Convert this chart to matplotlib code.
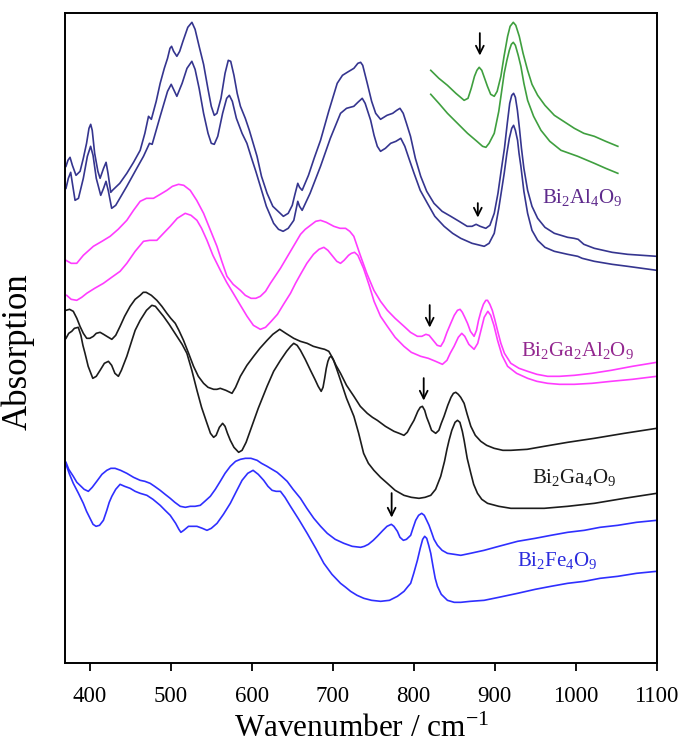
import matplotlib
matplotlib.use('Agg')
import matplotlib.pyplot as plt

plt.rcParams['font.family'] = 'Liberation Serif'
plt.rcParams['mathtext.fontset'] = 'custom'
plt.rcParams['mathtext.rm'] = 'Liberation Serif'
plt.rcParams['mathtext.it'] = 'Liberation Serif:italic'
plt.rcParams['mathtext.default'] = 'regular'

# ---- data (wavenumber / cm-1, offset absorption) ----
al_top_x = [370.6, 373, 375.6, 378.5, 383.0, 388, 392, 396, 399, 401.1, 403, 406, 410, 412.7, 417,
            420.1, 422.5, 425.9, 428, 437, 445.7, 454, 462.2, 468, 472.5, 476, 482, 486.9, 492,
            496, 499, 501, 503.5, 507.5, 511, 515, 521, 526.1, 530, 535, 540.5, 546, 550, 553.7,
            557, 562, 567, 571, 574, 578, 582, 586, 592, 597, 601, 606.5, 612, 618.9, 626, 635,
            639, 645, 650, 653, 656.8, 659, 662.2, 670, 677, 684.9, 695, 705.5, 712, 717.9, 726.1,
            731, 734.4, 737, 742.6, 748, 753, 759, 767, 774, 779, 783, 787, 791, 796, 802, 808.6,
            816, 825, 835, 845.7, 856, 866, 872, 877, 882, 889, 894, 899.4, 904, 908, 912, 915.5,
            918.5, 921, 923.3, 925.5, 928, 930.5, 933, 936, 940.6, 946, 953, 962, 973.6, 990, 998,
            1003, 1010, 1023, 1045, 1064, 1100]
al_top_y = [4.97, 5.03, 5.06, 4.98, 4.88, 4.92, 5.05, 5.20, 5.35, 5.39, 5.33, 5.10, 4.92, 4.85, 4.95,
            5.01, 4.90, 4.71, 4.73, 4.80, 4.90, 5.01, 5.13, 5.30, 5.47, 5.44, 5.62, 5.80, 5.95,
            6.05, 6.15, 6.17, 6.12, 6.07, 6.12, 6.22, 6.36, 6.41, 6.34, 6.17, 5.99, 5.74, 5.57, 5.48,
            5.50, 5.65, 5.90, 6.03, 6.02, 5.88, 5.70, 5.57, 5.45, 5.33, 5.22, 5.07, 4.87, 4.70, 4.57, 4.50,
            4.47, 4.50, 4.58, 4.68, 4.80, 4.76, 4.73, 4.88, 5.05, 5.23, 5.52, 5.80, 5.88, 5.91, 5.95,
            6.00, 6.01, 5.98, 5.80, 5.62, 5.50, 5.44, 5.48, 5.50, 5.53, 5.55, 5.50, 5.40, 5.27, 5.05, 4.87,
            4.72, 4.60, 4.52, 4.47, 4.42, 4.37, 4.37, 4.39, 4.37, 4.35, 4.38, 4.50, 4.70, 4.93, 5.15, 5.40,
            5.60, 5.68, 5.70, 5.66, 5.53, 5.35, 5.15, 4.95, 4.73, 4.57, 4.45, 4.36, 4.30, 4.26, 4.25,
            4.24, 4.19, 4.15, 4.11, 4.09, 4.07]

al_bot_x = [370.6, 373.5, 376.4, 378.5, 381.8, 386, 392, 397, 401, 404, 408, 413.5, 417, 420, 423,
            427, 432, 445.7, 458, 466.3, 473.7, 477, 486.9, 496, 500.5, 504, 507.5, 514, 520, 526,
            530, 535, 540.5, 546, 550, 553.7, 558, 564, 569, 572.3, 576, 581, 588, 594, 599, 605,
            610.6, 618, 627, 633, 638.7, 645, 651.9, 654.5, 656.8, 659, 662.2, 672, 684.9, 697,
            709.6, 717, 726, 731, 736.4, 740, 746.8, 751, 755, 759, 765, 771.5, 778, 784, 789, 794,
            800.4, 808, 816.9, 826, 837.5, 848, 858, 872, 887, 893, 899.4, 905, 911.7, 915, 918,
            921, 923.3, 925.5, 928.2, 930, 932.3, 936, 940.6, 946, 953, 962, 973.6, 990, 1002.5,
            1008, 1023, 1045, 1064, 1100]
al_bot_y = [4.75, 4.85, 4.91, 4.80, 4.63, 4.65, 4.85, 5.07, 5.17, 5.08, 4.85, 4.68, 4.75, 4.82, 4.72,
            4.55, 4.58, 4.77, 4.95, 5.07, 5.20, 5.19, 5.47, 5.72, 5.79, 5.73, 5.67, 5.80, 5.95, 6.02,
            5.94, 5.75, 5.50, 5.30, 5.20, 5.19, 5.27, 5.50, 5.65, 5.68, 5.62, 5.45, 5.30, 5.20, 5.07, 4.92,
            4.77, 4.57, 4.40, 4.34, 4.32, 4.35, 4.43, 4.53, 4.62, 4.57, 4.53, 4.70, 4.97, 5.25,
            5.50, 5.55, 5.57, 5.61, 5.65, 5.60, 5.43, 5.28, 5.17, 5.12, 5.15, 5.20, 5.22, 5.25, 5.17, 5.05,
            4.90, 4.73, 4.60, 4.47, 4.37, 4.30, 4.25, 4.20, 4.17, 4.20, 4.30, 4.55, 4.90, 5.10, 5.25,
            5.35, 5.38, 5.33, 5.23, 5.10, 4.97, 4.72, 4.50, 4.33, 4.23, 4.16, 4.12, 4.09, 4.07,
            4.05, 4.02, 3.99, 3.97, 3.93]

green_top_x = [821, 831, 841.6, 852, 862.2, 867, 871, 875, 878, 880.8, 884, 887.5, 891, 895, 899.4,
               903, 907.6, 911.5, 915.9, 919, 922.9, 926, 930.3, 935, 940.6, 946, 953, 962, 973.6,
               985, 998.3, 1010, 1023, 1037, 1052]
green_top_y = [5.93, 5.85, 5.78, 5.70, 5.63, 5.65, 5.75, 5.87, 5.93, 5.96, 5.93, 5.85, 5.77, 5.69, 5.67,
               5.72, 5.87, 6.07, 6.27, 6.37, 6.41, 6.38, 6.27, 6.10, 5.93, 5.79, 5.68, 5.58, 5.48,
               5.42, 5.35, 5.30, 5.27, 5.22, 5.17]
green_bot_x = [821, 831, 841.6, 854, 866.4, 878, 885, 889.1, 893, 899.4, 905, 911.7, 915, 918, 920.5,
               922.9, 925.5, 929, 932.3, 936, 940.6, 948, 957.1, 968, 981.8, 1002.5, 1023, 1037, 1052]
green_bot_y = [5.69, 5.60, 5.50, 5.40, 5.30, 5.22, 5.17, 5.16, 5.20, 5.30, 5.52, 5.90, 6.03, 6.13, 6.19,
               6.21, 6.18, 6.08, 5.97, 5.80, 5.63, 5.47, 5.33, 5.22, 5.13, 5.07, 5.00, 4.95, 4.90]

gaal_top_x = [370.6, 377, 383.9, 392, 404.4, 415, 425.1, 435, 445.7, 454, 462.2, 470, 478.6, 487,
              495.2, 502, 509.6, 516, 524, 532, 540.5, 548, 557, 563, 569.4, 577, 585.9, 592, 599.1,
              605, 610.6, 617, 623, 635.4, 647.8, 660.2, 666, 672.5, 679, 684.9, 692, 701.3, 709,
              715.8, 721, 726, 734, 742, 750.8, 759, 767.4, 777, 788, 796, 804.5, 810, 815, 819, 824,
              829, 833.3, 837, 841, 845.7, 850, 854, 857.2, 860, 863, 866.4, 870, 874.5, 877.5, 880,
              883, 886, 889, 891.1, 894, 897, 900, 904, 907.6, 912, 919.9, 930, 940.6, 952, 965.3,
              980, 998.3, 1020, 1043.7, 1070, 1100]
gaal_top_y = [4.03, 4.00, 4.00, 4.08, 4.17, 4.22, 4.27, 4.34, 4.43, 4.53, 4.62, 4.65, 4.65, 4.69,
              4.73, 4.77, 4.79, 4.78, 4.73, 4.63, 4.50, 4.35, 4.17, 4.02, 3.87, 3.79, 3.73, 3.68, 3.65,
              3.65, 3.67, 3.72, 3.80, 3.95, 4.12, 4.29, 4.34, 4.38, 4.42, 4.43, 4.41, 4.37, 4.35,
              4.35, 4.32, 4.27, 4.08, 3.90, 3.73, 3.62, 3.53, 3.45, 3.37, 3.31, 3.27, 3.27, 3.29, 3.28, 3.23,
              3.18, 3.17, 3.22, 3.31, 3.40, 3.48, 3.53, 3.54, 3.51, 3.46, 3.40, 3.32, 3.27, 3.33, 3.43,
              3.52, 3.59, 3.63, 3.63, 3.59, 3.53, 3.44, 3.31, 3.20, 3.10, 3.00, 2.95, 2.92, 2.89, 2.87,
              2.87, 2.88, 2.90, 2.93, 2.97, 3.01]

gaal_bot_x = [371.5, 377, 383.9, 390, 396.2, 406, 416.8, 427, 437.4, 445.7, 456, 466.3, 474, 482.8,
              491, 499.3, 508, 517.8, 525, 532.3, 538, 544.7, 552, 561.2, 569, 577.2, 586, 594.2, 602,
              610.6, 617, 624, 631.7, 640, 647.8, 654, 660.2, 668, 676.2, 683, 689, 694, 701, 705,
              709.6, 714, 719.5, 723, 726.9, 731, 738, 745, 751, 759, 767.4, 777, 787.9, 797, 808.6,
              818, 827, 835.4, 841, 845, 849.8, 855, 859.3, 863, 868, 874.5, 879, 883, 887, 891.5,
              895, 899, 903.5, 909, 915.9, 927, 940.6, 952, 965.3, 980, 998.3, 1020, 1043.7, 1070, 1100]
gaal_bot_y = [3.68, 3.64, 3.63, 3.66, 3.70, 3.75, 3.80, 3.86, 3.92, 4.00, 4.12, 4.22, 4.23, 4.23,
              4.30, 4.37, 4.45, 4.50, 4.48, 4.43, 4.35, 4.23, 4.08, 3.93, 3.81, 3.70, 3.58, 3.47, 3.38,
              3.34, 3.36, 3.42, 3.49, 3.60, 3.70, 3.80, 3.89, 4.00, 4.09, 4.14, 4.16, 4.13, 4.06, 4.02,
              4.00, 4.03, 4.08, 4.10, 4.11, 4.08, 3.95, 3.78, 3.62, 3.47, 3.37, 3.26, 3.17, 3.11, 3.07,
              3.05, 3.02, 2.99, 3.03, 3.10, 3.17, 3.26, 3.30, 3.27, 3.19, 3.14, 3.20, 3.33, 3.46, 3.52,
              3.48, 3.38, 3.23, 3.08, 2.97, 2.90, 2.85, 2.82, 2.80, 2.79, 2.79, 2.80, 2.82, 2.84, 2.87]

ga_top_x = [370.6, 375, 379.6, 384, 387.9, 392, 396.2, 400, 404.4, 408, 412.7, 417, 421, 427.2, 432,
            437.4, 443, 449.8, 456, 462.2, 466, 469.6, 476, 482.8, 489, 495.2, 500, 505.5, 510,
            515.7, 522, 528.1, 534, 540.5, 546, 552.9, 557, 561.1, 568, 575.6, 580, 585.9, 594,
            602.3, 610, 618.9, 626, 634.5, 642, 651.8, 660, 668.4, 676, 684.9, 690, 695.1, 700, 704,
            709.6, 717, 726.1, 734, 742.6, 749, 755, 765, 775.6, 782, 787.9, 792, 796, 800.3, 805,
            808, 810.7, 813.5, 816, 818.9, 822, 827.1, 831, 834, 837.4, 842, 846, 849, 851.9, 855,
            858, 862.2, 866, 870.5, 876, 882.8, 890, 899.3, 910, 919.9, 940, 961.1, 990, 1023, 1060, 1100]
ga_top_y = [3.53, 3.54, 3.52, 3.45, 3.37, 3.30, 3.25, 3.25, 3.27, 3.30, 3.31, 3.29, 3.27, 3.24, 3.28,
            3.37, 3.47, 3.57, 3.64, 3.68, 3.71, 3.71, 3.68, 3.63, 3.57, 3.50, 3.45, 3.40, 3.33,
            3.23, 3.10, 2.97, 2.87, 2.80, 2.76, 2.74, 2.74, 2.75, 2.73, 2.70, 2.76, 2.87, 2.98,
            3.07, 3.15, 3.23, 3.29, 3.34, 3.30, 3.25, 3.22, 3.20, 3.17, 3.15, 3.14, 3.12, 3.05, 2.98,
            2.90, 2.78, 2.67, 2.57, 2.50, 2.46, 2.43, 2.37, 2.32, 2.30, 2.28, 2.31, 2.37, 2.43, 2.52,
            2.56, 2.57, 2.53, 2.46, 2.40, 2.33, 2.30, 2.33, 2.40, 2.47, 2.58, 2.66, 2.70, 2.71, 2.69,
            2.66, 2.60, 2.49, 2.37, 2.28, 2.22, 2.18, 2.15, 2.13, 2.13, 2.14, 2.17, 2.21, 2.25, 2.30, 2.35]

ga_bot_x = [370.6, 374, 377.7, 381, 385.8, 389, 391.5, 394.1, 398, 403.7, 408, 412.7, 418, 423, 427,
            431, 435.3, 439, 445.7, 452, 456, 462.2, 470, 476.6, 481, 486, 491, 498, 507.6, 514,
            519.9, 526, 532.3, 538, 544.7, 549, 552.9, 556, 560, 564, 567, 570, 573.5, 578, 583.8,
            588, 593, 598.3, 608, 618.9, 627, 635.4, 643, 648, 651.8, 656, 660.1, 666, 672.5, 678,
            682, 685.7, 688, 690, 692, 694, 696, 698.1, 701, 705, 709.6, 717, 726.1, 732, 738.1,
            744, 750.8, 759, 767.4, 777, 787.9, 797, 806.5, 814, 821, 827, 833.3, 838, 841, 843.6,
            847, 851, 854, 857, 860, 862.2, 866, 870.5, 874, 878.7, 884, 891.1, 905, 919.9, 935,
            961.1, 990, 1023, 1060, 1100]
ga_bot_y = [3.25, 3.30, 3.32, 3.35, 3.36, 3.28, 3.18, 3.10, 2.97, 2.85, 2.87, 2.93, 3.00, 3.02, 2.98,
            2.90, 2.87, 2.93, 3.07, 3.23, 3.33, 3.43, 3.53, 3.58, 3.57, 3.52, 3.47, 3.39, 3.27, 3.19,
            3.10, 2.93, 2.73, 2.56, 2.40, 2.30, 2.26, 2.28, 2.36, 2.40, 2.37, 2.30, 2.23, 2.16, 2.11,
            2.13, 2.21, 2.33, 2.55, 2.77, 2.92, 3.03, 3.12, 3.17, 3.20, 3.18, 3.13, 3.04, 2.93, 2.84,
            2.77, 2.72, 2.76, 2.85, 2.95, 3.02, 3.06, 3.07, 3.03, 2.94, 2.83, 2.65, 2.47, 2.30, 2.10,
            2.00, 1.93, 1.86, 1.80, 1.73, 1.68, 1.66, 1.65, 1.66, 1.68, 1.74, 1.87, 2.02, 2.14, 2.23,
            2.33, 2.41, 2.43, 2.41, 2.32, 2.23, 2.05, 1.90, 1.79, 1.70, 1.64, 1.60, 1.57, 1.55, 1.55,
            1.55, 1.57, 1.60, 1.65, 1.70]

fe_top_x = [370.6, 374, 379.6, 384, 387.9, 393, 398.2, 403, 408.6, 415, 421, 426, 431.2, 438, 445.7,
            454, 462.2, 468, 474.5, 480, 486.9, 493, 499.3, 505, 511.7, 518, 524, 530, 536.4, 542,
            548.8, 555, 561.1, 567, 573.5, 580, 586, 592.1, 599, 606.6, 612, 618.9, 625, 631.3, 637,
            643.7, 651, 660.1, 668, 676.6, 685, 693.2, 703, 713.7, 724, 734.4, 739, 744, 750, 755,
            762, 767, 772.3, 775.5, 779.8, 783, 787.2, 791, 796.2, 799, 802.4, 806, 809.8, 813, 816,
            818.9, 822, 825, 829.3, 835, 841.6, 850, 858.1, 870, 886.9, 905, 928.2, 950, 969.4, 990,
            1010.6, 1030, 1051.9, 1075, 1100]
fe_top_y = [2.01, 1.94, 1.87, 1.81, 1.78, 1.74, 1.72, 1.76, 1.82, 1.89, 1.93, 1.95, 1.95, 1.93, 1.90,
            1.86, 1.83, 1.82, 1.80, 1.77, 1.73, 1.69, 1.65, 1.61, 1.57, 1.56, 1.57, 1.57, 1.58, 1.62,
            1.67, 1.74, 1.82, 1.90, 1.97, 2.02, 2.04, 2.05, 2.05, 2.03, 2.00, 1.97, 1.94, 1.91, 1.87,
            1.82, 1.74, 1.65, 1.55, 1.45, 1.37, 1.30, 1.24, 1.20, 1.17, 1.16, 1.17, 1.19, 1.23, 1.27,
            1.33, 1.37, 1.39, 1.37, 1.32, 1.26, 1.23, 1.24, 1.28, 1.35, 1.43, 1.48, 1.50, 1.48, 1.43,
            1.38, 1.31, 1.24, 1.18, 1.13, 1.10, 1.09, 1.08, 1.10, 1.13, 1.17, 1.22, 1.25, 1.28, 1.31,
            1.33, 1.36, 1.38, 1.41, 1.43]

fe_bot_x = [370.6, 375, 379.6, 386, 392, 396, 400.3, 404, 407.7, 412, 416.8, 421, 424, 427.2, 432,
            437.4, 443, 449.8, 456, 462.2, 470.5, 478, 486.9, 493, 499.3, 506, 510, 512.5, 516,
            521.9, 532.3, 539, 544.7, 550, 557.1, 565, 573.5, 581, 588, 595, 601.6, 608, 614.7, 620,
            625.1, 630, 635.4, 641, 647.8, 658, 668.4, 679, 689, 699, 709.6, 716, 722, 730, 738.4,
            748, 759.1, 770, 779.8, 788, 793, 796.2, 800, 804.5, 808, 811, 813.5, 816, 818.5, 821,
            824, 826.5, 829.3, 834, 841.6, 850, 858.1, 870, 886.9, 905, 928.2, 950, 969.4, 990,
            1010.6, 1030, 1051.9, 1075, 1100]
fe_bot_y = [1.99, 1.89, 1.80, 1.70, 1.60, 1.52, 1.45, 1.39, 1.37, 1.38, 1.43, 1.53, 1.61, 1.67, 1.74,
            1.79, 1.77, 1.75, 1.72, 1.70, 1.68, 1.64, 1.58, 1.53, 1.48, 1.40, 1.34, 1.31, 1.33,
            1.37, 1.37, 1.35, 1.33, 1.35, 1.40, 1.49, 1.60, 1.72, 1.83, 1.90, 1.93, 1.89, 1.83, 1.77,
            1.73, 1.72, 1.72, 1.66, 1.57, 1.44, 1.30, 1.15, 1.00, 0.89, 0.80, 0.76, 0.72, 0.68, 0.65,
            0.63, 0.62, 0.63, 0.67, 0.72, 0.77, 0.80, 0.90, 1.03, 1.15, 1.24, 1.27, 1.25, 1.18, 1.10,
            0.96, 0.85, 0.77, 0.69, 0.63, 0.61, 0.61, 0.62, 0.63, 0.66, 0.70, 0.74, 0.77, 0.80,
            0.82, 0.85, 0.87, 0.90, 0.92]

# arrows: (wavenumber, tail, tip)
arrow_x = [881.6, 879.1, 819.7, 812.3, 772.7]
arrow_tail = [6.33, 4.63, 3.61, 2.88, 1.73]
arrow_tip = [6.05, 4.43, 3.33, 2.60, 1.43]

labels = ['Bi$_2$Al$_4$O$_9$', 'Bi$_2$Ga$_2$Al$_2$O$_9$', 'Bi$_2$Ga$_4$O$_9$', 'Bi$_2$Fe$_4$O$_9$']
label_x = [1007.8, 1002.2, 997.9, 977.5]
label_y = [4.66, 3.13, 1.86, 1.03]
label_col = ['#5e2a8c', '#93278f', '#1a1a1a', '#2b2bdd']

navy = '#35358f'
green = '#3f9f3f'
magenta = '#ff3cff'
black = '#1c1c1c'
blue = '#2f2fff'

# ============================================================================
fig = plt.figure(figsize=(6.83, 7.48), dpi=100)
ax = fig.add_axes([0.0959, 0.1132, 0.8656, 0.869])

lw = 1.2
ax.plot(al_top_x, al_top_y, color=navy, lw=lw)
ax.plot(al_bot_x, al_bot_y, color=navy, lw=lw)
ax.plot(green_top_x, green_top_y, color=green, lw=lw)
ax.plot(green_bot_x, green_bot_y, color=green, lw=lw)
ax.plot(gaal_top_x, gaal_top_y, color=magenta, lw=lw)
ax.plot(gaal_bot_x, gaal_bot_y, color=magenta, lw=lw)
ax.plot(ga_top_x, ga_top_y, color=black, lw=lw)
ax.plot(ga_bot_x, ga_bot_y, color=black, lw=lw)
ax.plot(fe_top_x, fe_top_y, color=blue, lw=lw)
ax.plot(fe_bot_x, fe_bot_y, color=blue, lw=lw)

for x, y0, y1 in zip(arrow_x, arrow_tail, arrow_tip):
    ax.annotate('', xy=(x, y1), xytext=(x, y0),
                arrowprops=dict(arrowstyle='->', color='black', lw=1.3, mutation_scale=14))

for t, x, y, c in zip(labels, label_x, label_y, label_col):
    ax.text(x, y, t, color=c, fontsize=15, ha='center', va='center')

ax.set_xlim(370, 1100)
ax.set_ylim(0, 6.5)
ax.set_xticks([400, 500, 600, 700, 800, 900, 1000, 1100])
ax.set_yticks([])
ax.tick_params(axis='x', direction='out', length=6, width=1.3, labelsize=16.5, pad=10)
for s in ax.spines.values():
    s.set_linewidth(1.4)
ax.set_xlabel('Wavenumber / cm$^{-1}$', fontsize=22.5, labelpad=6)
ax.set_ylabel('Absorption', fontsize=25)
ax.yaxis.set_label_coords(-0.052, 0.48)

fig.savefig('out.png', dpi=100)
